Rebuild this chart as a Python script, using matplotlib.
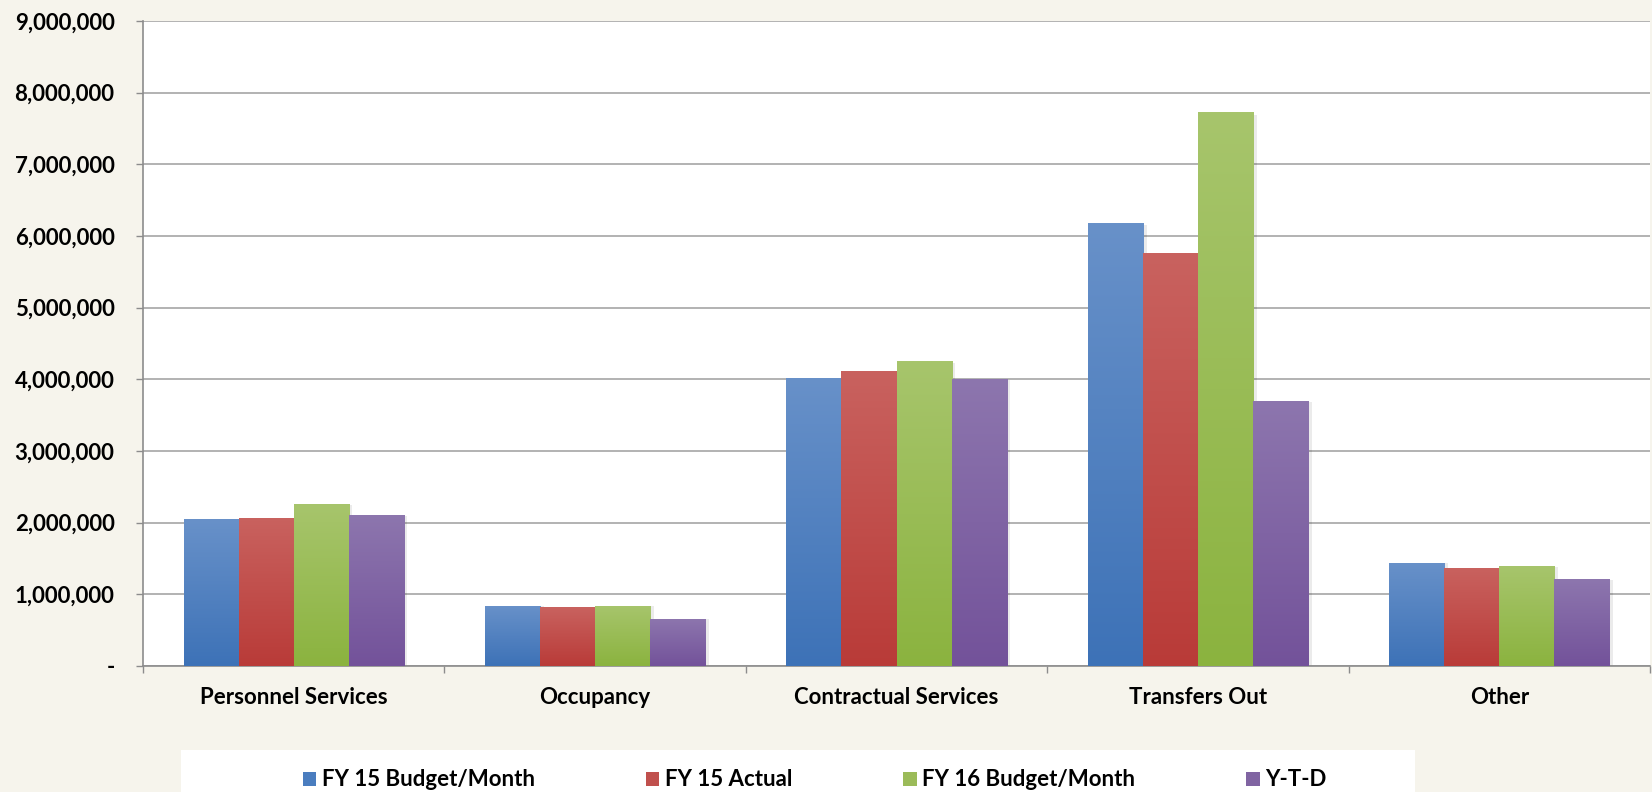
import matplotlib
matplotlib.use("Agg")
import matplotlib.pyplot as plt
import numpy as np
from matplotlib.colors import LinearSegmentedColormap
from matplotlib.patches import Rectangle
from matplotlib.ticker import FuncFormatter

plt.rcParams['font.family'] = ['Lato', 'DejaVu Sans']
plt.rcParams['font.weight'] = 'bold'

categories = ["Personnel Services", "Occupancy", "Contractual Services", "Transfers Out", "Other"]
series_names = ["FY 15 Budget/Month", "FY 15 Actual", "FY 16 Budget/Month", "Y-T-D"]
fy15_budget = [2050000, 840000, 4020000, 6180000, 1440000]
fy15_actual = [2070000, 820000, 4120000, 5760000, 1370000]
fy16_budget = [2260000, 840000, 4250000, 7730000, 1390000]
ytd = [2110000, 660000, 4010000, 3700000, 1210000]
series_values = [fy15_budget, fy15_actual, fy16_budget, ytd]
yticks = [0, 1000000, 2000000, 3000000, 4000000, 5000000, 6000000, 7000000, 8000000, 9000000]

top_colors = ["#6891C9", "#C9625F", "#A7C56C", "#8D76AE"]
bottom_colors = ["#3D72B7", "#B93B38", "#8BB33F", "#73529A"]
legend_colors = ["#4A7DBF", "#C0504D", "#9BBB59", "#8064A2"]

FS = 16
bg = "#F6F4EC"
fig = plt.figure(figsize=(16.52, 7.92), dpi=100, facecolor=bg)
ax = fig.add_axes([143/1652, 1-666/792, 1507/1652, 645/792])
ax.set_facecolor("white")

n = len(categories)
x = np.arange(n)
bw = 0.1825
offsets = (np.arange(4) - 1.5) * bw

ax.set_xlim(-0.5, n - 0.5)
ax.set_ylim(0, 9000000)

grad = np.linspace(0, 1, 256).reshape(-1, 1)
for i, vals in enumerate(series_values):
    bars = ax.bar(x + offsets[i], vals, width=bw, color=legend_colors[i],
                  label=series_names[i], zorder=3, linewidth=0)
    cmap = LinearSegmentedColormap.from_list("g%d" % i, [bottom_colors[i], top_colors[i]])
    for b in bars:
        bx, by = b.get_x(), b.get_y()
        w, h = b.get_width(), b.get_height()
        sh = Rectangle((bx + w, by), 0.012, h * 0.995, facecolor="#000000",
                       alpha=0.08, linewidth=0, zorder=2)
        ax.add_patch(sh)
        im = ax.imshow(grad, extent=(bx, bx + w, by, by + h), origin="lower",
                       cmap=cmap, aspect="auto", zorder=4, interpolation="bilinear")
        im.set_clip_path(b)

ax.set_xlim(-0.5, n - 0.5)
ax.set_ylim(0, 9000000)

ax.set_yticks(yticks)
ax.yaxis.set_major_formatter(FuncFormatter(lambda v, p: "-" if v == 0 else "{:,.0f}".format(v)))
ax.grid(axis="y", color="#A6A6A6", linewidth=1.2, zorder=0)
ax.set_axisbelow(True)

ax.set_xticks(np.arange(-0.5, n, 1.0), minor=False)
ax.set_xticklabels([])
ax.set_xticks(x, minor=True)
ax.set_xticklabels(categories, minor=True)
ax.tick_params(axis="x", which="minor", length=0, pad=15, labelsize=FS)
ax.tick_params(axis="x", which="major", length=5, color="#8C8C8C", width=1)
ax.tick_params(axis="y", length=5, color="#8C8C8C", width=1, labelsize=FS, pad=15.5)
for lbl in ax.get_xticklabels(minor=True) + ax.get_yticklabels():
    lbl.set_fontweight("bold")

for s in ["top", "right"]:
    ax.spines[s].set_visible(False)
ax.spines["left"].set_color("#8C8C8C")
ax.spines["bottom"].set_color("#8C8C8C")
ax.spines["left"].set_linewidth(1.2)
ax.spines["bottom"].set_linewidth(1.2)

fig.patches.append(Rectangle((181/1652, 0), (1415-181)/1652, 42/792,
                             transform=fig.transFigure, facecolor="white",
                             edgecolor="none", zorder=0))
leg = fig.legend(loc="center left", bbox_to_anchor=(294/1652, 12/792), ncol=4,
                 frameon=False, fontsize=FS, handlelength=0.6, handleheight=0.6,
                 handletextpad=0.25, columnspacing=5.0, borderaxespad=0)
for t in leg.get_texts():
    t.set_fontweight("bold")

fig.savefig("out.png", dpi=100, facecolor=bg)
